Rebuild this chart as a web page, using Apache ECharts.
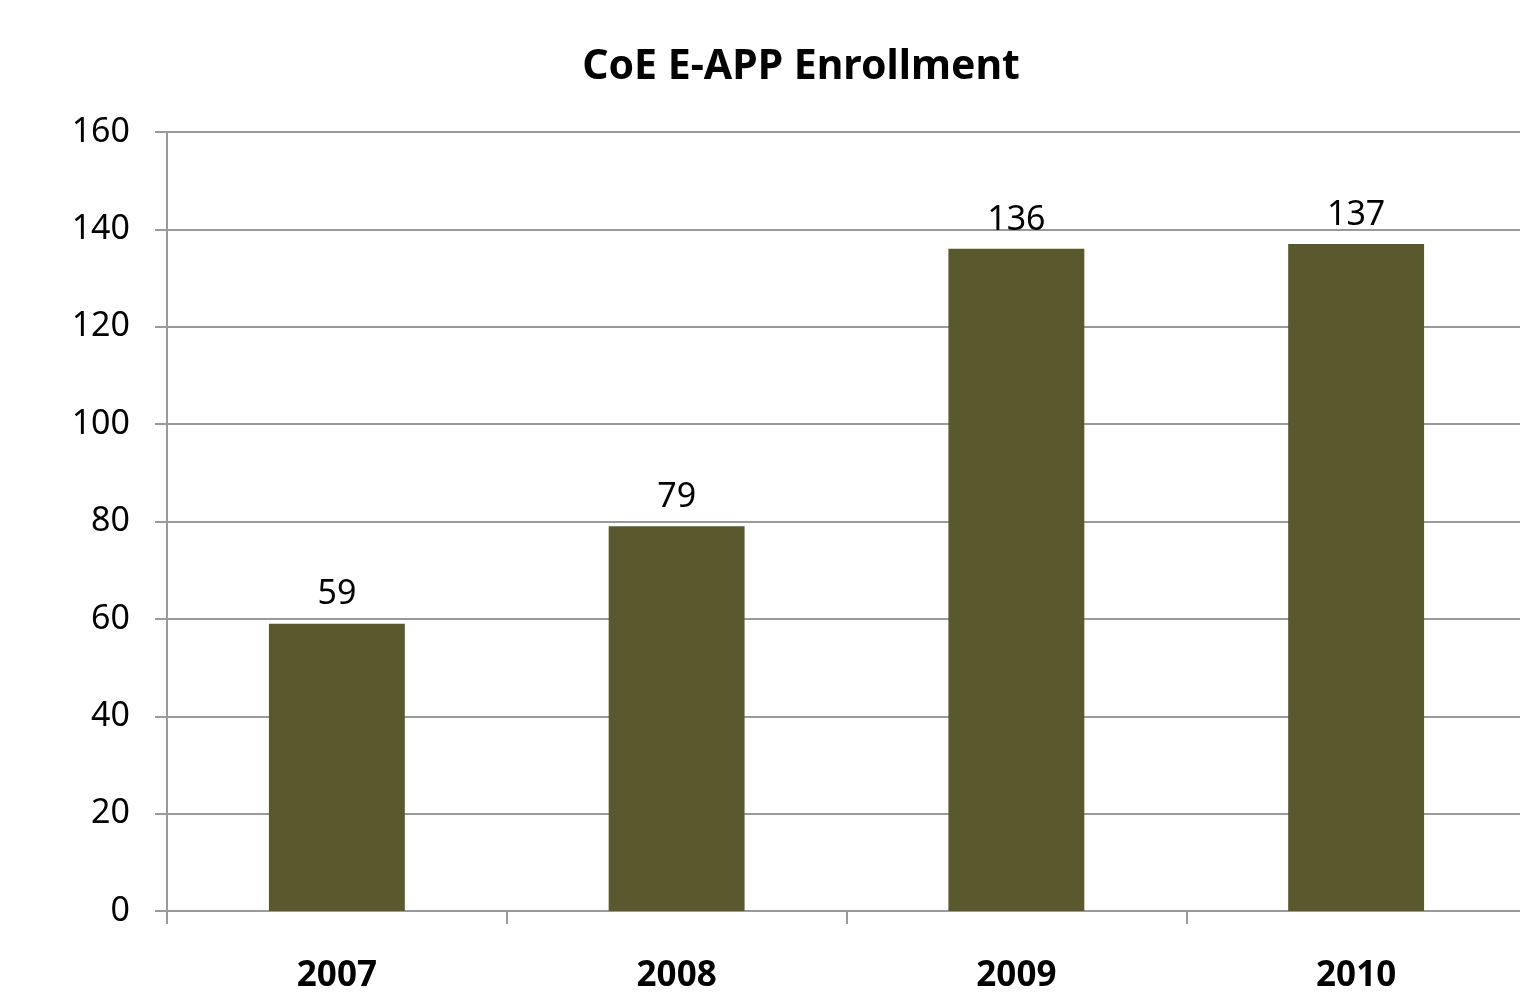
<!DOCTYPE html>
<html>
<head>
<meta charset="utf-8">
<script src="https://cdn.jsdelivr.net/npm/echarts@6/dist/echarts.min.js"></script>
<style>
html,body{margin:0;padding:0;background:#fff;}
#chart{width:1520px;height:998px;}
</style>
</head>
<body>
<div id="chart"></div>
<script>
const titleText = 'CoE E-APP Enrollment';
const categories = ['2007', '2008', '2009', '2010'];
const enrollment = [59, 79, 136, 137];

const chart = echarts.init(document.getElementById('chart'), null, {renderer: 'canvas'});
const font = '"Noto Sans", "DejaVu Sans", sans-serif';
chart.setOption({
  backgroundColor: '#ffffff',
  animation: false,
  title: {
    text: titleText,
    left: 796,
    top: 42,
    textAlign: 'center',
    textStyle: {fontFamily: font, fontSize: 41, fontWeight: 'bold', color: '#000'}
  },
  grid: {left: 167, width: 1359, top: 132, height: 779, containLabel: false, outerBoundsMode: 'none'},
  xAxis: {
    type: 'category',
    data: categories,
    axisLine: {lineStyle: {color: '#9a9a9a', width: 2}},
    axisTick: {show: true, length: 13, alignWithLabel: false, lineStyle: {color: '#9a9a9a', width: 2}},
    axisLabel: {margin: 48, fontFamily: font, fontSize: 35, fontWeight: 'bold', color: '#000'},
    splitLine: {show: false}
  },
  yAxis: {
    type: 'value',
    min: 0, max: 160, interval: 20,
    axisLine: {show: true, lineStyle: {color: '#9a9a9a', width: 2}},
    axisTick: {show: true, length: 12, lineStyle: {color: '#9a9a9a', width: 2}},
    axisLabel: {margin: 37, fontFamily: font, fontSize: 34, color: '#000'},
    splitLine: {show: true, lineStyle: {color: '#9a9a9a', width: 2}}
  },
  series: [{
    type: 'bar',
    data: enrollment,
    barWidth: '40%',
    itemStyle: {color: '#5a582d'},
    label: {show: true, position: 'top', distance: 12, fontFamily: font, fontSize: 34, color: '#000'}
  }]
});
</script>
</body>
</html>
